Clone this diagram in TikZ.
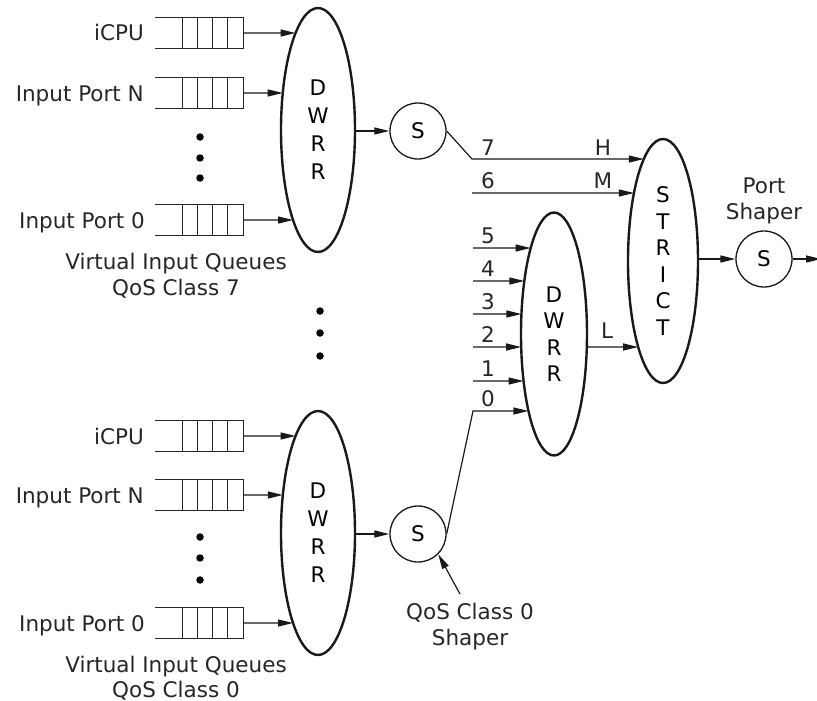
\documentclass[tikz,border=0pt]{standalone}
\usepackage{fontspec}
\setmainfont{DejaVu Sans}
\usetikzlibrary{arrows.meta,intersections,shapes.geometric}
\tikzset{
  conn/.style={line width=1.2pt,draw=black!90,-{Triangle[length=15pt,width=7pt]}},
  plainline/.style={line width=1.2pt,draw=black!90},
  qline/.style={line width=1.2pt,draw=black!85},
  qnode/.style={draw=none,minimum width=88pt,minimum height=30pt,inner sep=0pt},
  ellline/.style={line width=2.4pt,draw=black!90},
  elltext/.style={draw=none,align=center,inner sep=0pt,font=\fontsize{21.5}{28}\selectfont},
  shaper/.style={circle,draw=black!90,line width=1.3pt,minimum size=56pt,inner sep=0pt,font=\fontsize{21.5}{26}\selectfont},
  lbl/.style={inner sep=0pt,font=\fontsize{21.5}{26}\selectfont,text=black!85},
  dot/.style={circle,fill=black,inner sep=0pt,minimum size=7.5pt},
}
\newcommand\qbox[3]{%
  \node[qnode] (#1) at (#2,#3) {};
  \draw[qline] (#1.north west) -- (#1.north east) -- (#1.south east) -- (#1.south west);
  \foreach \k in {0,1,2,3} \draw[qline] ([xshift=28pt+\k*14.8pt]#1.north west) -- ([xshift=28pt+\k*14.8pt]#1.south west);
}
\newcommand\arrin[2]{%
  \path[name path=hl] (#1) -- ++(260,0);
  \draw[conn,name intersections={of=hl and #2,sort by=hl}] (#1) -- (intersection-1);
}
\begin{document}
\begin{tikzpicture}[x=1pt,y=-1pt]
\useasboundingbox (0,0) rectangle (817,701);

% ---------- top group (QoS class 7) ----------
\qbox{qa1}{199}{33}
\qbox{qa2}{199}{93}
\qbox{qa3}{199}{220}
\node[lbl,anchor=base east] (la1) at (144,41) {iCPU};
\node[lbl,anchor=base east] (la2) at (144,101) {Input Port N};
\node[lbl,anchor=base east] (la3) at (145,228) {Input Port 0};
\node[dot] (da1) at (200,137) {};
\node[dot] (da2) at (200,158) {};
\node[dot] (da3) at (200,178) {};
\node[lbl,anchor=base] (va1) at (176,269) {Virtual Input Queues};
\node[lbl,anchor=base] (va2) at (176,295) {QoS Class 7};

\node[elltext] (dwA) at (318,130) {D\\W\\R\\R};
\draw[ellline,name path=pA] (dwA.center) ellipse [x radius=37pt,y radius=122pt];
\arrin{qa1.east}{pA}
\arrin{qa2.east}{pA}
\arrin{qa3.east}{pA}

\node[shaper] (sA) at (418,131) {S};
\coordinate (dwAe) at (355,131);
\draw[conn] (dwAe) -- (sA.west);

% ---------- middle dots ----------
\node[dot] (dm1) at (320,311) {};
\node[dot] (dm2) at (320,333) {};
\node[dot] (dm3) at (320,356) {};

% ---------- bottom group (QoS class 0) ----------
\qbox{qb1}{199}{436}
\qbox{qb2}{199}{495}
\qbox{qb3}{199}{623}
\node[lbl,anchor=base east] (lb1) at (144,444) {iCPU};
\node[lbl,anchor=base east] (lb2) at (144,503) {Input Port N};
\node[lbl,anchor=base east] (lb3) at (145,631) {Input Port 0};
\node[dot] (db1) at (200,537) {};
\node[dot] (db2) at (200,558) {};
\node[dot] (db3) at (200,580) {};
\node[lbl,anchor=base] (vb1) at (176,672) {Virtual Input Queues};
\node[lbl,anchor=base] (vb2) at (176,697) {QoS Class 0};

\node[elltext] (dwB) at (318,533) {D\\W\\R\\R};
\draw[ellline,name path=pB] (dwB.center) ellipse [x radius=37pt,y radius=122pt];
\arrin{qb1.east}{pB}
\arrin{qb2.east}{pB}
\arrin{qb3.east}{pB}

\node[shaper] (sB) at (418,534) {S};
\coordinate (dwBe) at (355,534);
\draw[conn] (dwBe) -- (sB.west);
\node[lbl,anchor=base] (qs1) at (470,619) {QoS Class 0};
\node[lbl,anchor=base] (qs2) at (470,645) {Shaper};
\coordinate (qsa) at (460,594);
\draw[conn] (qsa) -- (sB.south east);

% ---------- right DWRR (classes 0..5) ----------
\node[elltext,font=\fontsize{21.5}{26.5}\selectfont] (dwC) at (554,334) {D\\W\\R\\R};
\draw[ellline,name path=pC] (dwC.center) ellipse [x radius=33pt,y radius=121.5pt];
\foreach \n/\yy in {5/248,4/281,3/314,2/347,1/381}{
  \coordinate (c\n) at (473,\yy);
  \node[lbl,anchor=base] (n\n) at (488,\yy-5) {\n};
  \arrin{c\n}{pC}
}
\coordinate (c0) at (473,411);
\node[lbl,anchor=base] (n0) at (488,406) {0};
\path[name path=h0] (c0) -- ++(200,0);
\draw[conn,name intersections={of=h0 and pC,sort by=h0}] (sB.east) -- (c0) -- (intersection-1);

% ---------- STRICT ----------
\node[elltext,font=\fontsize{21.5}{26.6}\selectfont] (st) at (663,261) {S\\T\\R\\I\\C\\T};
\draw[ellline,name path=pS] (st.center) ellipse [x radius=35pt,y radius=122pt];

\coordinate (c7) at (472,159);
\node[lbl,anchor=base] (n7) at (488,155) {7};
\node[lbl,anchor=base] (nH) at (603,155) {H};
\path[name path=h7] (c7) -- ++(260,0);
\draw[conn,name intersections={of=h7 and pS,sort by=h7}] (sA.east) -- (c7) -- (intersection-1);

\coordinate (c6) at (472,193);
\node[lbl,anchor=base] (n6) at (488,188) {6};
\node[lbl,anchor=base] (nM) at (603,188) {M};
\arrin{c6}{pS}

\coordinate (cL) at (587,347);
\node[lbl,anchor=base] (nL) at (607,338) {L};
\arrin{cL}{pS}

% ---------- port shaper ----------
\node[shaper] (sP) at (764,259) {S};
\coordinate (stE) at (697,259);
\draw[conn] (stE) -- (sP.west);
\node[lbl,anchor=base] (ps1) at (764,193) {Port};
\node[lbl,anchor=base] (ps2) at (764,219) {Shaper};
\coordinate (outend) at (821,259);
\draw[conn] (sP.east) -- (outend);
\end{tikzpicture}
\end{document}
